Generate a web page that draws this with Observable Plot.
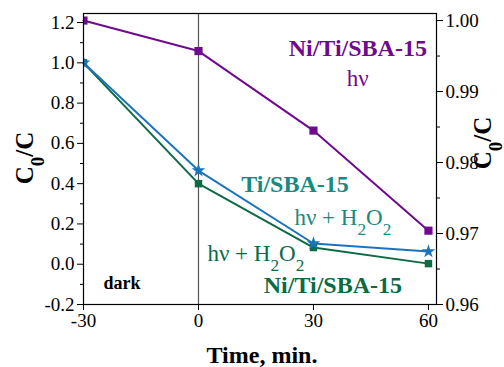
<!DOCTYPE html>
<html>
<head>
<meta charset="utf-8">
<script src="https://cdn.jsdelivr.net/npm/d3@7"></script>
<script src="https://cdn.jsdelivr.net/npm/@observablehq/plot@0.6"></script>
<style>
html, body { margin: 0; padding: 0; background: #fff; }
#chart svg { display: block; }
</style>
</head>
<body>
<div id="chart"></div>
<script>
// ---- data ----
const times = [-30, 0, 30, 60];
// Ni/Ti/SBA-15, hν — read on the right axis (C0/C, 0.96–1.00)
const niTiHv = [1.000, 0.9957, 0.9845, 0.9704];
// Ti/SBA-15, hν + H2O2 — left axis
const tiH2O2 = [1.0, 0.465, 0.103, 0.063];
// Ni/Ti/SBA-15, hν + H2O2 — left axis
const niTiH2O2 = [1.0, 0.40, 0.083, 0.003];

const xTicks = [-30, 0, 30, 60];
const leftTicks = [-0.2, 0, 0.2, 0.4, 0.6, 0.8, 1.0, 1.2];
const leftMinor = [-0.1, 0.1, 0.3, 0.5, 0.7, 0.9, 1.1];
const rightTicks = [0.96, 0.97, 0.98, 0.99, 1.00];
const rightMinor = [0.965, 0.975, 0.985, 0.995];

const cPurple = "#6f0a8e";
const cBlue = "#1b74bb";
const cGreen = "#0c6a45";
const cTeal = "#178a82";

// right axis relation to the left axis
const rightToLeft = d3.scaleLinear([0.96, 1.00], [-0.2, 1.21]);

const rows = (vals, series) => times.map((t, i) => ({t, v: vals[i], series}));
const purple = rows(niTiHv.map(rightToLeft), "p");
const blue = rows(tiH2O2, "b");
const green = rows(niTiH2O2, "g");

const serifFont = "'Liberation Serif', serif";

const plot = Plot.plot({
  width: 504,
  height: 367,
  marginLeft: 83,
  marginRight: 68,
  marginTop: 13,
  marginBottom: 63,
  style: {fontSize: "19px", color: "#000", background: "#fff"},
  x: {domain: [-30, 62.1]},
  y: {domain: [-0.2, 1.245]},
  marks: [
    Plot.ruleX([0], {stroke: "#555", strokeWidth: 1.2}),
    Plot.axisX({ticks: xTicks, tickSize: 6, tickPadding: 3, tickFormat: d => String(d), label: null, fontSize: 19}),
    Plot.axisY({ticks: leftTicks, tickSize: 6, tickPadding: 3, tickFormat: d => d.toFixed(1), label: null, fontSize: 19}),
    Plot.axisY({ticks: leftMinor, tickSize: 3, tickFormat: () => "", label: null}),
    Plot.axisY(rightTicks.map(rightToLeft), {anchor: "right", tickSize: 6, tickPadding: 3, tickFormat: d => rightToLeft.invert(d).toFixed(2), label: null, fontSize: 19}),
    Plot.axisY(rightMinor.map(rightToLeft), {anchor: "right", tickSize: 3, tickFormat: () => "", label: null}),
    Plot.line(green, {x: "t", y: "v", stroke: cGreen, strokeWidth: 2}),
    Plot.line(blue, {x: "t", y: "v", stroke: cBlue, strokeWidth: 2}),
    Plot.line(purple, {x: "t", y: "v", stroke: cPurple, strokeWidth: 2}),
    Plot.dot(green, {x: "t", y: "v", symbol: "square", r: 4.2, fill: cGreen, stroke: null, clip: true}),
    Plot.dot(blue, {x: "t", y: "v", symbol: "star", r: 4.3, fill: cBlue, stroke: null, clip: true}),
    Plot.dot(purple, {x: "t", y: "v", symbol: "square", r: 4.6, fill: cPurple, stroke: null, clip: true}),
    Plot.frame({stroke: "#000", strokeWidth: 1.2})
  ]
});

document.getElementById("chart").appendChild(plot);

// ---- annotations ----
const sx = plot.scale("x"), sy = plot.scale("y");
const svg = d3.select(plot);

function label(x, y, parts, opts) {
  const t = svg.append("text")
    .attr("x", sx.apply(x)).attr("y", sy.apply(y))
    .attr("text-anchor", "middle")
    .attr("dy", "0.35em")
    .attr("fill", opts.color)
    .attr("font-size", opts.size)
    .attr("font-weight", opts.bold ? "bold" : "normal");
  parts.forEach(([s, sub]) => {
    const ts = t.append("tspan").text(s);
    if (sub) ts.attr("baseline-shift", "sub").attr("font-size", "75%");
  });
  return t;
}

label(41.7, 1.075, [["Ni/Ti/SBA-15"]], {color: cPurple, size: 24, bold: true});
label(41.7, 0.92, [["hν"]], {color: cPurple, size: 23});
label(25.3, 0.40, [["Ti/SBA-15"]], {color: cTeal, size: 24, bold: true});
label(37.8, 0.232, [["hν + H"], ["2", true], ["O"], ["2", true]], {color: cTeal, size: 23});
label(15.1, 0.055, [["hν + H"], ["2", true], ["O"], ["2", true]], {color: cGreen, size: 23});
label(35.2, -0.106, [["Ni/Ti/SBA-15"]], {color: cGreen, size: 24, bold: true});
label(-19.8, -0.096, [["dark"]], {color: "#000", size: 18, bold: true});

// axis titles
svg.append("text")
  .attr("x", 262).attr("y", 363)
  .attr("text-anchor", "middle")
  .attr("font-size", 24).attr("font-weight", "bold")
  .text("Time, min.");

function yTitle(cx, cy) {
  const t = svg.append("text")
    .attr("transform", `translate(${cx},${cy}) rotate(-90)`)
    .attr("text-anchor", "middle")
    .attr("font-size", 25).attr("font-weight", "bold");
  t.append("tspan").text("C");
  t.append("tspan").text("0").attr("baseline-shift", "sub").attr("font-size", "75%");
  t.append("tspan").text("/C");
}
yTitle(33, 158);
yTitle(491, 143);

// force the serif face on every text node
plot.style.setProperty("font-family", serifFont, "important");
plot.querySelectorAll("g, text, tspan").forEach(el => {
  el.removeAttribute("font-family");
  el.style.setProperty("font-family", serifFont, "important");
});
</script>
</body>
</html>
